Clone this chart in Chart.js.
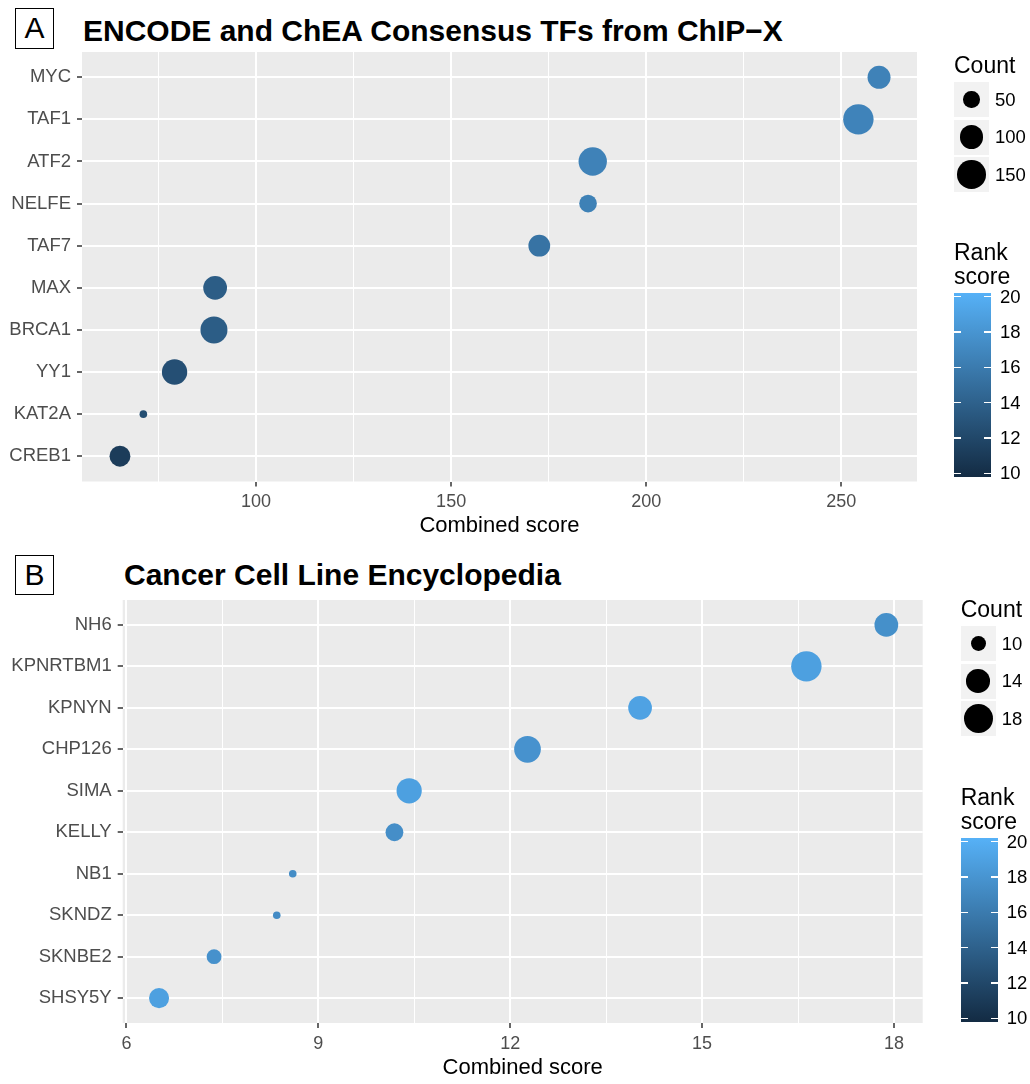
<!DOCTYPE html>
<html>
<head>
<meta charset="utf-8">
<script src="https://cdn.jsdelivr.net/npm/chart.js@4.4.0/dist/chart.umd.min.js"></script>
<style>
  body { margin: 0; background: #fff; font-family: "Liberation Sans", Arial, sans-serif; }
  #page { position: relative; width: 1030px; height: 1084px; overflow: hidden; }
  canvas { position: absolute; left: 0; }
  .tag { position: absolute; box-sizing: border-box; border: 1.5px solid #000; font-size: 30px;
         text-align: center; color: #000; }
  .title { position: absolute; font-weight: bold; font-size: 30px; line-height: 34px; color: #000;
           white-space: nowrap; }
  .lg { position: absolute; color: #000; white-space: nowrap; }
  .lg-title { font-size: 23px; line-height: 24px; }
  .lg-text { font-size: 18.5px; line-height: 20px; }
  .key { position: absolute; background: #f2f2f2; }
  .dot { position: absolute; background: #000; border-radius: 50%; }
  .bar { position: absolute; }
  .bar-tick { position: absolute; height: 1.5px; background: #fff; width: 7px; }
</style>
</head>
<body>
<div id="page">
  <div class="tag" style="left:15px;top:8px;width:39px;height:41px;line-height:38px;">A</div>
  <div class="title" style="left:83px;top:14px;">ENCODE and ChEA Consensus TFs from ChIP−X</div>
  <div class="tag" style="left:15px;top:555px;width:39px;height:40px;line-height:37px;">B</div>
  <div class="title" style="left:124px;top:558px;">Cancer Cell Line Encyclopedia</div>
  <canvas id="chartA" width="1030" height="545" style="top:0;"></canvas>
  <canvas id="chartB" width="1030" height="544" style="top:540px;"></canvas>
</div>
<script>
// Panel A: ENCODE and ChEA consensus TFs
const TF_NAMES = ["MYC", "TAF1", "ATF2", "NELFE", "TAF7", "MAX", "BRCA1", "YY1", "KAT2A", "CREB1"];
const TF_SCORE = [259.7, 254.4, 186.3, 185.1, 172.6, 89.5, 89.2, 79.1, 71.1, 65.1];
const TF_COUNT = [95, 174, 149, 57, 85, 102, 134, 117, 29, 78];
const TF_RANK = [16.5, 16.6, 16.5, 16.4, 15.4, 13.7, 13.7, 12.7, 12.6, 11.3];
const TF_MAJOR = [100, 150, 200, 250];
const TF_MINOR = [75, 125, 175, 225];
const TF_COUNT_BREAKS = [50, 100, 150];

// Panel B: Cancer Cell Line Encyclopedia
const CELL_NAMES = ["NH6", "KPNRTBM1", "KPNYN", "CHP126", "SIMA", "KELLY", "NB1", "SKNDZ", "SKNBE2", "SHSY5Y"];
const CELL_SCORE = [17.88, 16.63, 14.03, 12.27, 10.42, 10.19, 8.6, 8.35, 7.37, 6.51];
const CELL_COUNT = [14, 19, 14, 16, 15, 11, 9, 9, 10, 12];
const CELL_RANK = [17.5, 18.7, 18.9, 17.7, 18.7, 17.4, 17.3, 17.2, 17.6, 18.7];
const CELL_MAJOR = [6, 9, 12, 15, 18];
const CELL_MINOR = [7.5, 10.5, 13.5, 16.5];
const CELL_COUNT_BREAKS = [10, 14, 18];

const RANK_BREAKS = [10, 12, 14, 16, 18, 20];
const RANK_LOW = 10, RANK_HIGH = 20;
const COLOR_LOW = [0x13, 0x2b, 0x43];
const COLOR_HIGH = [0x56, 0xb1, 0xf7];
const R_MIN = 3.8, R_MAX = 15.2;

const AXIS_TEXT = "#4d4d4d";
const FONT = "'Liberation Sans', Arial, sans-serif";

function rankColor(v) {
  const t = Math.max(0, Math.min(1, (v - RANK_LOW) / (RANK_HIGH - RANK_LOW)));
  const c = COLOR_LOW.map((lo, i) => Math.round(lo + (COLOR_HIGH[i] - lo) * t));
  return `rgb(${c[0]}, ${c[1]}, ${c[2]})`;
}

// area-style size scale between the smallest and largest count of a panel
function sizeScale(counts) {
  const lo = Math.min(...counts), hi = Math.max(...counts);
  return (c) => R_MIN + (R_MAX - R_MIN) * Math.sqrt(Math.max(0, (c - lo) / (hi - lo)));
}

const panelBg = {
  id: "panelBg",
  beforeDraw(chart) {
    const { ctx, chartArea: a } = chart;
    ctx.save();
    ctx.fillStyle = "#ebebeb";
    ctx.fillRect(a.left, a.top, a.right - a.left, a.bottom - a.top);
    ctx.restore();
  },
};

function buildChart(canvas, cfg) {
  const radius = sizeScale(cfg.counts);
  const lo = Math.min(...cfg.scores), hi = Math.max(...cfg.scores);
  const pad = (hi - lo) * 0.05;
  const allTicks = cfg.major.concat(cfg.minor).sort((a, b) => a - b);
  const isMajor = (v) => cfg.major.some((m) => Math.abs(m - v) < 1e-9);

  return new Chart(canvas, {
    type: "bubble",
    data: {
      datasets: [{
        data: cfg.scores.map((s, i) => ({ x: s, y: i, r: radius(cfg.counts[i]) })),
        backgroundColor: cfg.ranks.map(rankColor),
        borderWidth: 0,
        hoverRadius: 0,
      }],
    },
    options: {
      responsive: false,
      animation: false,
      events: [],
      layout: { padding: cfg.padding },
      plugins: { legend: { display: false }, tooltip: { enabled: false } },
      scales: {
        x: {
          type: "linear",
          min: lo - pad,
          max: hi + pad,
          afterBuildTicks: (axis) => { axis.ticks = allTicks.map((v) => ({ value: v })); },
          afterFit: (axis) => { axis.height = 58; },
          border: { display: false },
          grid: {
            color: "#ffffff",
            lineWidth: (ctx) => (isMajor(ctx.tick.value) ? 2 : 1),
            tickColor: (ctx) => (isMajor(ctx.tick.value) ? "#333333" : "rgba(0,0,0,0)"),
            tickWidth: 1.5,
            tickLength: 5,
          },
          ticks: {
            autoSkip: false,
            maxRotation: 0,
            padding: 5,
            color: AXIS_TEXT,
            font: { family: FONT, size: 18 },
            callback: (v) => (isMajor(v) ? String(v) : ""),
          },
          title: {
            display: true,
            text: "Combined score",
            color: "#000",
            font: { family: FONT, size: 22 },
            padding: { top: 0, bottom: 0 },
          },
        },
        y: {
          type: "linear",
          reverse: true,
          min: -0.6,
          max: cfg.names.length - 0.4,
          afterBuildTicks: (axis) => { axis.ticks = cfg.names.map((_, i) => ({ value: i })); },
          afterFit: (axis) => { axis.width = cfg.yWidth; },
          border: { display: false },
          grid: { color: "#ffffff", lineWidth: 2, tickColor: "#333333", tickWidth: 1.5, tickLength: 5 },
          ticks: {
            autoSkip: false,
            padding: 6,
            color: AXIS_TEXT,
            font: { family: FONT, size: 18.5 },
            callback: (v) => cfg.names[v],
          },
        },
      },
    },
    plugins: [panelBg],
  });
}

function el(cls, style, text) {
  const d = document.createElement("div");
  d.className = cls;
  Object.assign(d.style, style);
  if (text !== undefined) d.textContent = text;
  document.getElementById("page").appendChild(d);
  return d;
}

// Count keys and Rank score colour bar on the right of a panel
function buildLegend(lg) {
  const radius = sizeScale(lg.counts);
  el("lg lg-title", { left: lg.x + "px", top: lg.countTop + "px" }, "Count");
  lg.breaks.forEach((b, i) => {
    const top = lg.countTop + 29 + i * 37.5;
    el("key", { left: lg.x + "px", top: top + "px", width: "35px", height: "35px" });
    const r = radius(b);
    el("dot", {
      left: lg.x + 17.5 - r + "px", top: top + 17.5 - r + "px",
      width: 2 * r + "px", height: 2 * r + "px",
    });
    el("lg lg-text", { left: lg.x + 41 + "px", top: top + 7.5 + "px" }, String(b));
  });

  el("lg lg-title", { left: lg.x + "px", top: lg.rankTop + "px" }, "Rank");
  el("lg lg-title", { left: lg.x + "px", top: lg.rankTop + 24 + "px" }, "score");
  const barTop = lg.rankTop + 53, barH = 184, inset = 3.6;
  el("bar", {
    left: lg.x + "px", top: barTop + "px", width: "37px", height: barH + "px",
    background: `linear-gradient(to bottom, ${rankColor(RANK_HIGH)}, ${rankColor(RANK_LOW)})`,
  });
  RANK_BREAKS.forEach((v) => {
    const y = barTop + inset + (RANK_HIGH - v) / (RANK_HIGH - RANK_LOW) * (barH - 2 * inset);
    el("bar-tick", { left: lg.x + "px", top: y - 0.75 + "px" });
    el("bar-tick", { left: lg.x + 30 + "px", top: y - 0.75 + "px" });
    el("lg lg-text", { left: lg.x + 46 + "px", top: y - 10 + "px" }, String(v));
  });
}

buildChart(document.getElementById("chartA"), {
  names: TF_NAMES, scores: TF_SCORE, counts: TF_COUNT, ranks: TF_RANK,
  major: TF_MAJOR, minor: TF_MINOR, yWidth: 82,
  padding: { left: 0, right: 113, top: 52, bottom: 5.5 },
});
buildChart(document.getElementById("chartB"), {
  names: CELL_NAMES, scores: CELL_SCORE, counts: CELL_COUNT, ranks: CELL_RANK,
  major: CELL_MAJOR, minor: CELL_MINOR, yWidth: 122.7,
  padding: { left: 0, right: 107.3, top: 60, bottom: 3 },
});

buildLegend({ x: 954, countTop: 53, rankTop: 240, counts: TF_COUNT, breaks: TF_COUNT_BREAKS });
buildLegend({ x: 960.7, countTop: 597, rankTop: 785, counts: CELL_COUNT, breaks: CELL_COUNT_BREAKS });
</script>
</body>
</html>
